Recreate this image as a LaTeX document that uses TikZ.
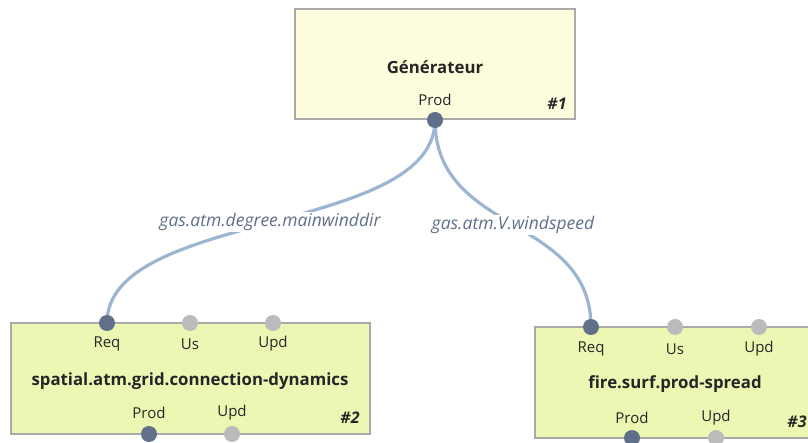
\documentclass[tikz,border=0pt]{standalone}
\usepackage{fontspec}
\setmainfont{Open Sans}
\definecolor{boxborder}{HTML}{AAAAAA}
\definecolor{genfill}{HTML}{FDFDDD}
\definecolor{modfill}{HTML}{EEF6B4}
\definecolor{portdark}{HTML}{5F7088}
\definecolor{portlight}{HTML}{BBBBBB}
\definecolor{edgecol}{HTML}{9CB6D2}
\definecolor{labelcol}{HTML}{5F6F88}
\tikzset{
  genbox/.style={draw=boxborder, line width=2pt, fill=genfill, rectangle, inner sep=0pt},
  modbox/.style={draw=boxborder, line width=2pt, fill=modfill, rectangle, inner sep=0pt},
  title/.style={font=\fontsize{16.8}{19}\selectfont\bfseries, text=black!85, inner sep=0pt},
  portlbl/.style={font=\fontsize{15}{17}\selectfont, text=black!85, inner sep=0pt},
  idlbl/.style={font=\fontsize{16}{18}\selectfont\bfseries\itshape, text=black!85, inner sep=0pt},
  pdark/.style={circle, fill=portdark, minimum size=16pt, inner sep=0pt},
  plight/.style={circle, fill=portlight, minimum size=16pt, inner sep=0pt},
  conn/.style={draw=edgecol, line width=3.2pt},
  elbl/.style={font=\fontsize{17.5}{19}\selectfont\itshape, text=labelcol, fill=white, inner sep=1pt}
}
\begin{document}
\begin{tikzpicture}[x=1pt,y=-1pt]
\useasboundingbox (0,0) rectangle (808,443);
\clip (0,0) rectangle (808,443);
% boxes
\node[genbox, minimum width=280pt, minimum height=110pt] (gen) at (435,64) {};
\node[modbox, minimum width=359pt, minimum height=111pt] (m2) at (190.5,378.5) {};
\node[modbox, minimum width=300pt, minimum height=111pt] (m3) at (685,382.5) {};
% texts
\node[title] (gent) at (435,67) {Générateur};
\node[portlbl] (genprodl) at (435,100) {Prod};
\node[idlbl] (gid) at (557,104) {\#1};
\node[portlbl] (m2req) at (107,344) {Req};
\node[portlbl] (m2us) at (190,344) {Us};
\node[portlbl] (m2upd) at (273,344) {Upd};
\node[title] (m2t) at (190,381) {spatial.atm.grid.connection-dynamics};
\node[portlbl] (m2prodl) at (149,413) {Prod};
\node[portlbl] (m2updl) at (232,413) {Upd};
\node[idlbl] (m2id) at (350,418) {\#2};
\node[portlbl] (m3req) at (591,349) {Req};
\node[portlbl] (m3us) at (675,349) {Us};
\node[portlbl] (m3upd) at (759,349) {Upd};
\node[title] (m3t) at (675,384) {fire.surf.prod-spread};
\node[portlbl] (m3prodl) at (632,418) {Prod};
\node[portlbl] (m3updl) at (716,418) {Upd};
\node[idlbl] (m3id) at (797,422) {\#3};
% port coordinates
\coordinate (gp) at (435,120);
\coordinate (r2) at (107,323);
\coordinate (r3) at (591,327);
% connectors
\draw[conn] (gp) .. controls (435,235) and (107,210) .. (r2);
\draw[conn] (gp) .. controls (435,235) and (591,215) .. (r3);
\node[elbl] (e1) at (270,222) {gas.atm.degree.mainwinddir};
\node[elbl] (e2) at (513,225) {gas.atm.V.windspeed};
% ports
\node[pdark] (gpp) at (gp) {};
\node[pdark] (p2req) at (r2) {};
\node[plight] (p2us) at (190,323) {};
\node[plight] (p2upd) at (273,323) {};
\node[pdark] (p2prod) at (149,434) {};
\node[plight] (p2updb) at (232,434) {};
\node[pdark] (p3req) at (r3) {};
\node[plight] (p3us) at (675,327) {};
\node[plight] (p3upd) at (759,327) {};
\node[pdark] (p3prod) at (632,438) {};
\node[plight] (p3updb) at (716,438) {};
\end{tikzpicture}
\end{document}
